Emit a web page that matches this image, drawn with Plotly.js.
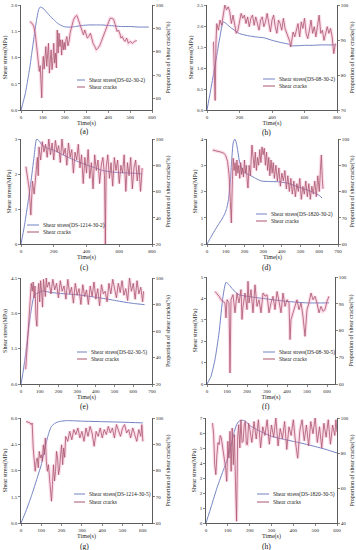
<!DOCTYPE html>
<html><head><meta charset="utf-8">
<script src="https://cdn.plot.ly/plotly-3.0.1.min.js"></script>
<style>html,body{margin:0;padding:0;background:#fff}#chart{width:356px;height:550px}</style>
</head><body><div id="chart"></div>
<script>
// ---------------- DATA ----------------
const panelLabels = ['(a)','(b)','(c)','(d)','(e)','(f)','(g)','(h)'];
const specimenNames = ['DS-02-30-2','DS-08-30-2','DS-1214-30-2','DS-1820-30-2','DS-02-30-5','DS-08-30-5','DS-1214-30-5','DS-1820-30-5'];
const xTitle = 'Time(s)';
const yLeftTitle = 'Shear stress(MPa)';
const yRightTitle = 'Proportion of shear cracks(%)';
const crackName = 'Shear cracks';

// (a) DS-02-30-2
const aStressT = [0,10,20,30,40,50,60,70,80,85,90,100,110,120,135,150,165,180,195,210,230,250,280,310,340,370,400,430,460,500,540,585];
const aStressV = [0,0.15,0.32,0.55,0.8,1.1,1.4,1.68,1.9,1.95,1.96,1.94,1.9,1.85,1.78,1.72,1.66,1.62,1.59,1.58,1.58,1.59,1.61,1.62,1.62,1.62,1.61,1.6,1.59,1.59,1.58,1.58];
const aCrackT = [40,50,58,65,72,78,84,88,92,95,98,102,106,110,114,118,122,126,130,134,138,142,146,150,154,158,162,166,170,174,178,182,186,190,194,198,202,206,210,215,220,225,232,240,248,256,262,268,274,280,286,292,298,304,310,318,324,330,338,345,352,360,368,376,384,392,400,408,416,424,432,440,446,452,458,464,470,476,484,492,500,510,520,530];
const aCrackV = [92.9,92.2,91.0,87.9,82,76.5,71.5,74,68,60.2,72,78,72.5,76,82.2,73.7,79,83.6,70.8,78,80.8,72.3,76,83.6,75.1,79.4,73,89.3,79.4,87.9,82.2,85.1,78.5,85.1,80.8,84,80.8,85,86.5,82.5,84.4,88,90.8,93.5,95,95.5,93.9,92,90.8,88.6,87.2,89.3,87.2,85.8,86.5,87.9,85.8,83.6,82.2,80.8,81.5,82.5,84.4,86.5,88.6,90.8,92.9,94.3,94.3,93.9,91.5,88.6,89.3,88,85.8,86.5,85.1,84.4,85.8,83.6,84.4,83.6,84.4,84.8];

// (b) DS-08-30-2
const bStressT = [0,20,40,60,80,100,120,150,200,250,300,350,400,450,500,520,560,600,650,700,750,790];
const bStressV = [0,0.42,0.85,1.3,1.75,2.1,2.05,1.95,1.82,1.77,1.74,1.72,1.66,1.61,1.57,1.53,1.53,1.54,1.54,1.55,1.55,1.55];
const bCrackT = [40,50,55,60,70,80,90,100,110,120,130,140,150,160,170,180,190,200,210,220,230,240,250,260,270,280,290,300,310,320,330,340,350,360,370,380,390,400,410,420,430,440,450,460,470,480,490,500,510,515,520,530,540,550,560,570,580,590,600,610,620,630,640,650,660,670,680,690,700,710,720,730,740,750,760,770,780,790];
const bCrackV = [89.5,72.7,89.0,94.7,92.8,95.7,94.2,97.6,100,98.6,99.5,98.1,94.7,97.1,93.8,91.9,92.8,95.7,97.6,96.2,97.1,94.7,96.6,93.8,96.2,97.1,94.2,96.6,94.7,92.8,95.7,96.6,93.8,95.2,97.6,94.2,92.3,95.7,97.1,93.8,91.9,95.7,94.7,92.8,96.2,93.3,91.9,90.9,89.5,88.0,89.5,92.3,90.9,92.8,94.7,90.9,95.2,93.3,96.2,91.9,90.4,92.8,95.7,91.9,93.8,90.9,94.7,97.1,91.9,92.8,89.9,92.3,93.8,91.9,93.3,90.9,86.1,89.0];

// (c) DS-1214-30-2
const cStressT = [0,20,40,60,80,95,110,130,160,200,250,300,350,400,450,500,550,600,650,700,740];
const cStressV = [0,0.5,1.1,1.75,2.5,3.0,2.95,2.82,2.74,2.68,2.56,2.45,2.35,2.26,2.18,2.1,2.06,2.04,2.03,2.02,2.0];
const cCrackT = [30,40,50,60,70,80,90,100,105,110,120,130,140,150,160,170,180,190,200,210,220,230,240,250,260,270,280,290,300,310,320,330,340,350,360,370,380,390,400,410,420,430,440,450,460,470,480,490,500,510,515,520,530,540,550,560,570,580,590,600,610,620,630,640,650,660,670,680,690,700,710,720,730,740];
const cCrackV = [79,70,62,42,68,58,76,86,72,94,84,98,90,96,86,100,88,97,84,99,90,95,82,100,88,93,80,97,86,92,74,90,84,96,78,88,66,86,74,92,70,82,62,88,76,84,66,80,86,72,20,78,88,70,82,64,86,76,84,66,80,74,88,60,82,72,86,62,78,84,68,80,60,78];

// (d) DS-1820-30-2
const dStressT = [0,20,40,60,80,95,105,115,125,132,140,148,155,162,172,184,200,230,260,290,330,380,430,470,510,550,580,600,615];
const dStressV = [0,0.25,0.5,0.73,0.95,1.15,1.35,1.7,2.4,3.2,3.85,4.0,3.9,3.65,3.2,2.9,2.72,2.62,2.5,2.4,2.38,2.37,2.32,2.22,2.12,2.02,1.93,1.85,1.75];
const dCrackT = [30,45,60,75,90,100,110,118,125,130,135,140,145,150,155,160,165,170,175,180,185,190,195,200,205,210,215,219,225,232,240,246,252,258,264,270,276,282,288,294,300,306,312,318,324,330,336,342,348,354,360,368,376,384,392,400,408,416,424,432,440,448,456,464,472,480,488,496,504,512,520,528,536,544,552,560,568,576,584,592,600,606,611,616,620];
const dCrackV = [95.8,95.6,95.4,95.0,94.6,93.7,91.4,86.3,76.2,68.0,82.5,92.7,88,91,86,92,87,90,85,91,86.5,89,85.5,92,87,90,84,81.3,90,86,97.7,93,89,95,88,93,90,96,91,97,94,96.5,90,95,88,93,86,92,87,91,85,90,84,89,82,87,84,88,81,86,80,85,79,84,78,83,80,85,77,82,79,84,78,83,77,82,79,84,78,86,80,88,93.9,85,81];

// (e) DS-02-30-5
const eStressT = [0,10,20,30,40,50,60,70,85,100,120,150,200,250,300,350,400,450,500,550,600,660];
const eStressV = [0,0.45,1.0,1.6,2.3,2.9,3.4,3.75,3.85,3.9,3.95,3.9,3.85,3.82,3.79,3.74,3.68,3.62,3.55,3.48,3.42,3.37];
const eCrackT = [25,35,45,55,60,65,70,75,80,85,90,95,100,105,110,115,120,125,130,135,140,150,160,170,180,190,200,210,220,230,240,250,260,270,280,290,300,310,320,330,340,350,360,370,380,390,400,410,420,430,440,450,460,470,480,490,500,510,520,530,540,550,560,570,580,590,600,610,620,630,640,650,655];
const eCrackV = [31,55,80,96,90,97,85,94,70,63.5,88,96,82,98,90,78,99,92,86,100,93,97,88,99,91,96,85,98,90,94,84,99,88,93,81,96,87,92,80,95,86,91,80,94,86,97,84,92,79,95,88,90,82,96,88,99,91,85,96,89,98,87,92,83,100,90,96,84,98,88,93,82,90];

// (f) DS-08-30-5
const fStressT = [0,20,40,60,80,95,110,130,160,200,300,400,500,610];
const fStressV = [0,0.36,1.14,2.38,4.1,4.75,4.64,4.41,4.17,4.1,3.97,3.86,3.79,3.79];
const fCrackT = [40,50,60,70,80,90,95,100,110,115,120,130,140,150,160,170,175,180,190,200,205,210,220,230,240,250,260,270,280,290,300,310,320,330,340,350,360,370,380,390,400,410,415,420,430,440,450,460,470,480,490,500,510,520,530,540,550,560,570,580,590,600,610];
const fCrackV = [94.6,93.8,92.8,91.5,91.0,90.3,84.7,91.5,90.3,64.1,91.5,93.4,86.6,94.0,90.3,95.3,84.1,89.0,94.0,87.8,98.4,90.3,95.3,86.6,97.1,89.0,91.5,86.6,94.0,92.8,93.4,86.6,90.3,92.8,87.8,94.6,90.9,86.6,94.0,89.0,91.5,90.3,76.6,84.1,86.6,89.0,91.5,87.8,90.3,85.3,77.8,87.8,90.3,94.0,91.5,92.8,90.3,86.6,89.0,87.2,87.8,90.9,92.8];

// (g) DS-1214-30-5
const gStressT = [0,25,50,75,100,115,130,140,150,165,180,200,230,300,400,500,600];
const gStressV = [0,0.7,1.5,2.4,3.33,4.1,4.86,5.25,5.52,5.68,5.77,5.82,5.85,5.82,5.79,5.76,5.72];
const gCrackT = [25,35,45,50,55,60,65,70,75,80,85,90,95,100,105,110,115,120,125,130,135,140,145,150,155,160,165,170,175,180,185,190,195,200,205,210,215,220,230,240,250,260,270,280,290,300,310,320,330,340,350,360,370,380,390,400,410,420,430,440,450,460,470,480,490,500,510,520,530,540,550,560,570,580,590,595,600];
const gCrackV = [98.7,98.4,98.1,97.5,98.1,88.6,82.2,79.7,83.5,84.8,81.0,87.3,84.8,86.0,83.5,89.8,86.0,92.4,83.5,79.7,82.2,78.4,72.1,68.3,74.6,82.2,76.0,79.7,87.3,84.8,78.4,81.0,86.0,89.8,82.2,88.6,85.0,93.0,91.1,94.9,91.7,95.6,93.7,96.2,92.4,94.9,91.1,96.2,93.0,96.8,94.3,89.2,94.9,93.0,96.2,92.4,95.6,93.7,96.8,94.3,96.2,92.4,97.5,94.9,93.0,96.2,97.5,94.3,95.6,92.4,96.2,93.7,91.1,95.6,93.0,97.5,91.1];

// (h) DS-1820-30-5
const hStressT = [0,25,50,75,100,115,130,140,150,165,180,200,250,300,350,400,450,500,550,600];
const hStressV = [0,1.15,2.33,3.35,4.33,5.2,6.1,6.55,6.78,6.85,6.8,6.5,6.1,5.78,5.6,5.44,5.28,5.1,4.9,4.67];
const hCrackT = [30,35,40,45,50,55,60,65,70,75,80,85,90,95,100,105,110,115,120,125,130,135,140,145,150,155,160,165,170,175,180,185,190,195,200,210,220,230,240,250,260,270,280,290,300,310,320,330,340,350,360,370,380,390,400,410,420,430,440,450,460,470,480,490,500,510,520,530,540,550,560,570,580,590,595,600];
const hCrackV = [97.1,90.5,73.3,67.6,79.0,86,84.8,90,88.6,84,81.0,77,71.4,63.8,86.7,77.1,92.4,69.5,94.3,73.3,90.5,63.8,41.0,88.6,96.2,82.9,99.0,86,86.7,96,98.1,85,84.8,97,94.3,86,98,88,99,83,95,90,99,85,96,89,100,84,94,88,98,82,95,90,99,86,77,93,99,87,96,84,98,91,100,86,95,83,97,89,99,85,96,90,99,92];

// ---------------- STYLE / LAYOUT ----------------
const FONT = 'Liberation Serif, "Times New Roman", serif';
const stressColor = '#7383C3';
const crackColor = '#A8566C';
const haloColor = 'rgba(246,150,190,0.33)';

const stressT = [aStressT,bStressT,cStressT,dStressT,eStressT,fStressT,gStressT,hStressT];
const stressV = [aStressV,bStressV,cStressV,dStressV,eStressV,fStressV,gStressV,hStressV];
const crackT = [aCrackT,bCrackT,cCrackT,dCrackT,eCrackT,fCrackT,gCrackT,hCrackT];
const crackV = [aCrackV,bCrackV,cCrackV,dCrackV,eCrackV,fCrackV,gCrackV,hCrackV];

// pixel boxes [left, right, top, bottom]
const boxes = [[21,152,5,110],[207,337,5,110],[21,152,139,244],[207,338,139,244],[21,152,278,384],[207,335,277,384],[21,152,418,523],[206,337,418,523]];
const xRanges = [[0,600],[0,800],[0,800],[0,700],[0,700],[0,640],[0,645],[0,600]];
const xDticks = [100,200,200,100,100,100,100,100];
const yLRanges = [[0,2],[0,2.5],[0,3],[0,4],[0,4.5],[0,5],[0,6],[0,7]];
const yLDticks = [0.5,0.5,1,1,1.5,1,1.5,1];
const yLFormats = ['.1f','.1f','d','d','.1f','d','.1f','d'];
const yRRanges = [[55,100],[70,100],[20,100],[60,100],[20,100],[60,100],[60,100],[40,100]];
const yRTick0 = [60,70,20,60,20,60,60,40];
const yRDticks = [10,10,20,10,20,10,10,20];
// legend key: line start x px, text start x px, first item centre y px, second item centre y px
const legendPos = [[77,87,80,87],[263,277,79,86],[27,41,225,232],[256,269,214,221],[77,89,352,359],[263,277,352,359],[74,87,494,502],[257,271,494,502]];
const labelPos = [[84,131],[266,132],[84,267],[266,267],[84,406],[266,406],[84,546],[266,546]];

const W = 356, H = 550;
const data = [];
const layout = {
  width: W, height: H,
  margin: {l:0,r:0,t:0,b:0},
  paper_bgcolor: '#fff', plot_bgcolor: 'rgba(0,0,0,0)',
  font: {family: FONT, size: 5, color: '#222'},
  annotations: [], shapes: [],
  showlegend: false
};

for (let i = 0; i < 8; i++) {
  const n = i + 1;
  const xa = n === 1 ? 'xaxis' : 'xaxis' + n;
  const yl = 2*n - 1, yr = 2*n;
  const ylKey = yl === 1 ? 'yaxis' : 'yaxis' + yl;
  const yrKey = 'yaxis' + yr;
  const xRef = n === 1 ? 'x' : 'x' + n;
  const ylRef = yl === 1 ? 'y' : 'y' + yl;
  const yrRef = 'y' + yr;
  const [L, R, T, B] = boxes[i];
  const common = {showgrid:false, zeroline:false, showline:true, linecolor:'#333', linewidth:0.8,
    ticks:'outside', ticklen:2, tickwidth:0.6, tickcolor:'#333', tickfont:{family:FONT,size:5,color:'#222'}};
  layout[xa] = Object.assign({}, common, {
    domain:[L/W, R/W], anchor: ylRef, range: xRanges[i], dtick: xDticks[i], tick0:0,
    title:{text:xTitle, font:{family:FONT,size:6,color:'#222'}, standoff:1}
  });
  layout[ylKey] = Object.assign({}, common, {
    domain:[1-B/H, 1-T/H], anchor: xRef, range: yLRanges[i], dtick: yLDticks[i], tick0:0, tickformat: yLFormats[i],
    title:{text:yLeftTitle, font:{family:FONT,size:6,color:'#222'}, standoff:2}
  });
  layout[yrKey] = Object.assign({}, common, {
    overlaying: ylRef, side:'right', anchor: xRef, range: yRRanges[i], tick0: yRTick0[i], dtick: yRDticks[i],
    title:{text:yRightTitle, font:{family:FONT,size:6,color:'#222'}, standoff:2}
  });
  // traces
  data.push({x: crackT[i], y: crackV[i], xaxis:xRef, yaxis:yrRef, mode:'lines', hoverinfo:'skip',
    line:{color:haloColor, width:3.5}});
  data.push({x: stressT[i], y: stressV[i], xaxis:xRef, yaxis:ylRef, mode:'lines', name:'Shear stress(' + specimenNames[i] + ')',
    line:{color:stressColor, width:1, shape:'spline', smoothing:0.5}});
  data.push({x: crackT[i], y: crackV[i], xaxis:xRef, yaxis:yrRef, mode:'lines', name: crackName,
    line:{color:crackColor, width:0.8}});
  // legend key (drawn inside each panel)
  const [lx0, tx, ly1, ly2] = legendPos[i];
  const entries = [['Shear stress(' + specimenNames[i] + ')', stressColor, ly1], [crackName, crackColor, ly2]];
  entries.forEach(([txt, col, yy]) => {
    layout.shapes.push({type:'line', xref:'paper', yref:'paper', x0:lx0/W, x1:(tx-2)/W, y0:1-yy/H, y1:1-yy/H,
      line:{color:col, width:1}});
    layout.annotations.push({text:txt, xref:'paper', yref:'paper', x:tx/W, y:1-yy/H, xanchor:'left', yanchor:'middle',
      showarrow:false, font:{family:FONT,size:5.5,color:'#222'}});
  });
  // panel label
  layout.annotations.push({text: panelLabels[i], xref:'paper', yref:'paper', x: labelPos[i][0]/W, y: 1-labelPos[i][1]/H,
    showarrow:false, xanchor:'center', yanchor:'middle', font:{family:FONT,size:7.5,color:'#111'}});
}

Plotly.newPlot('chart', data, layout, {staticPlot:true, displayModeBar:false});
</script>
</body></html>
